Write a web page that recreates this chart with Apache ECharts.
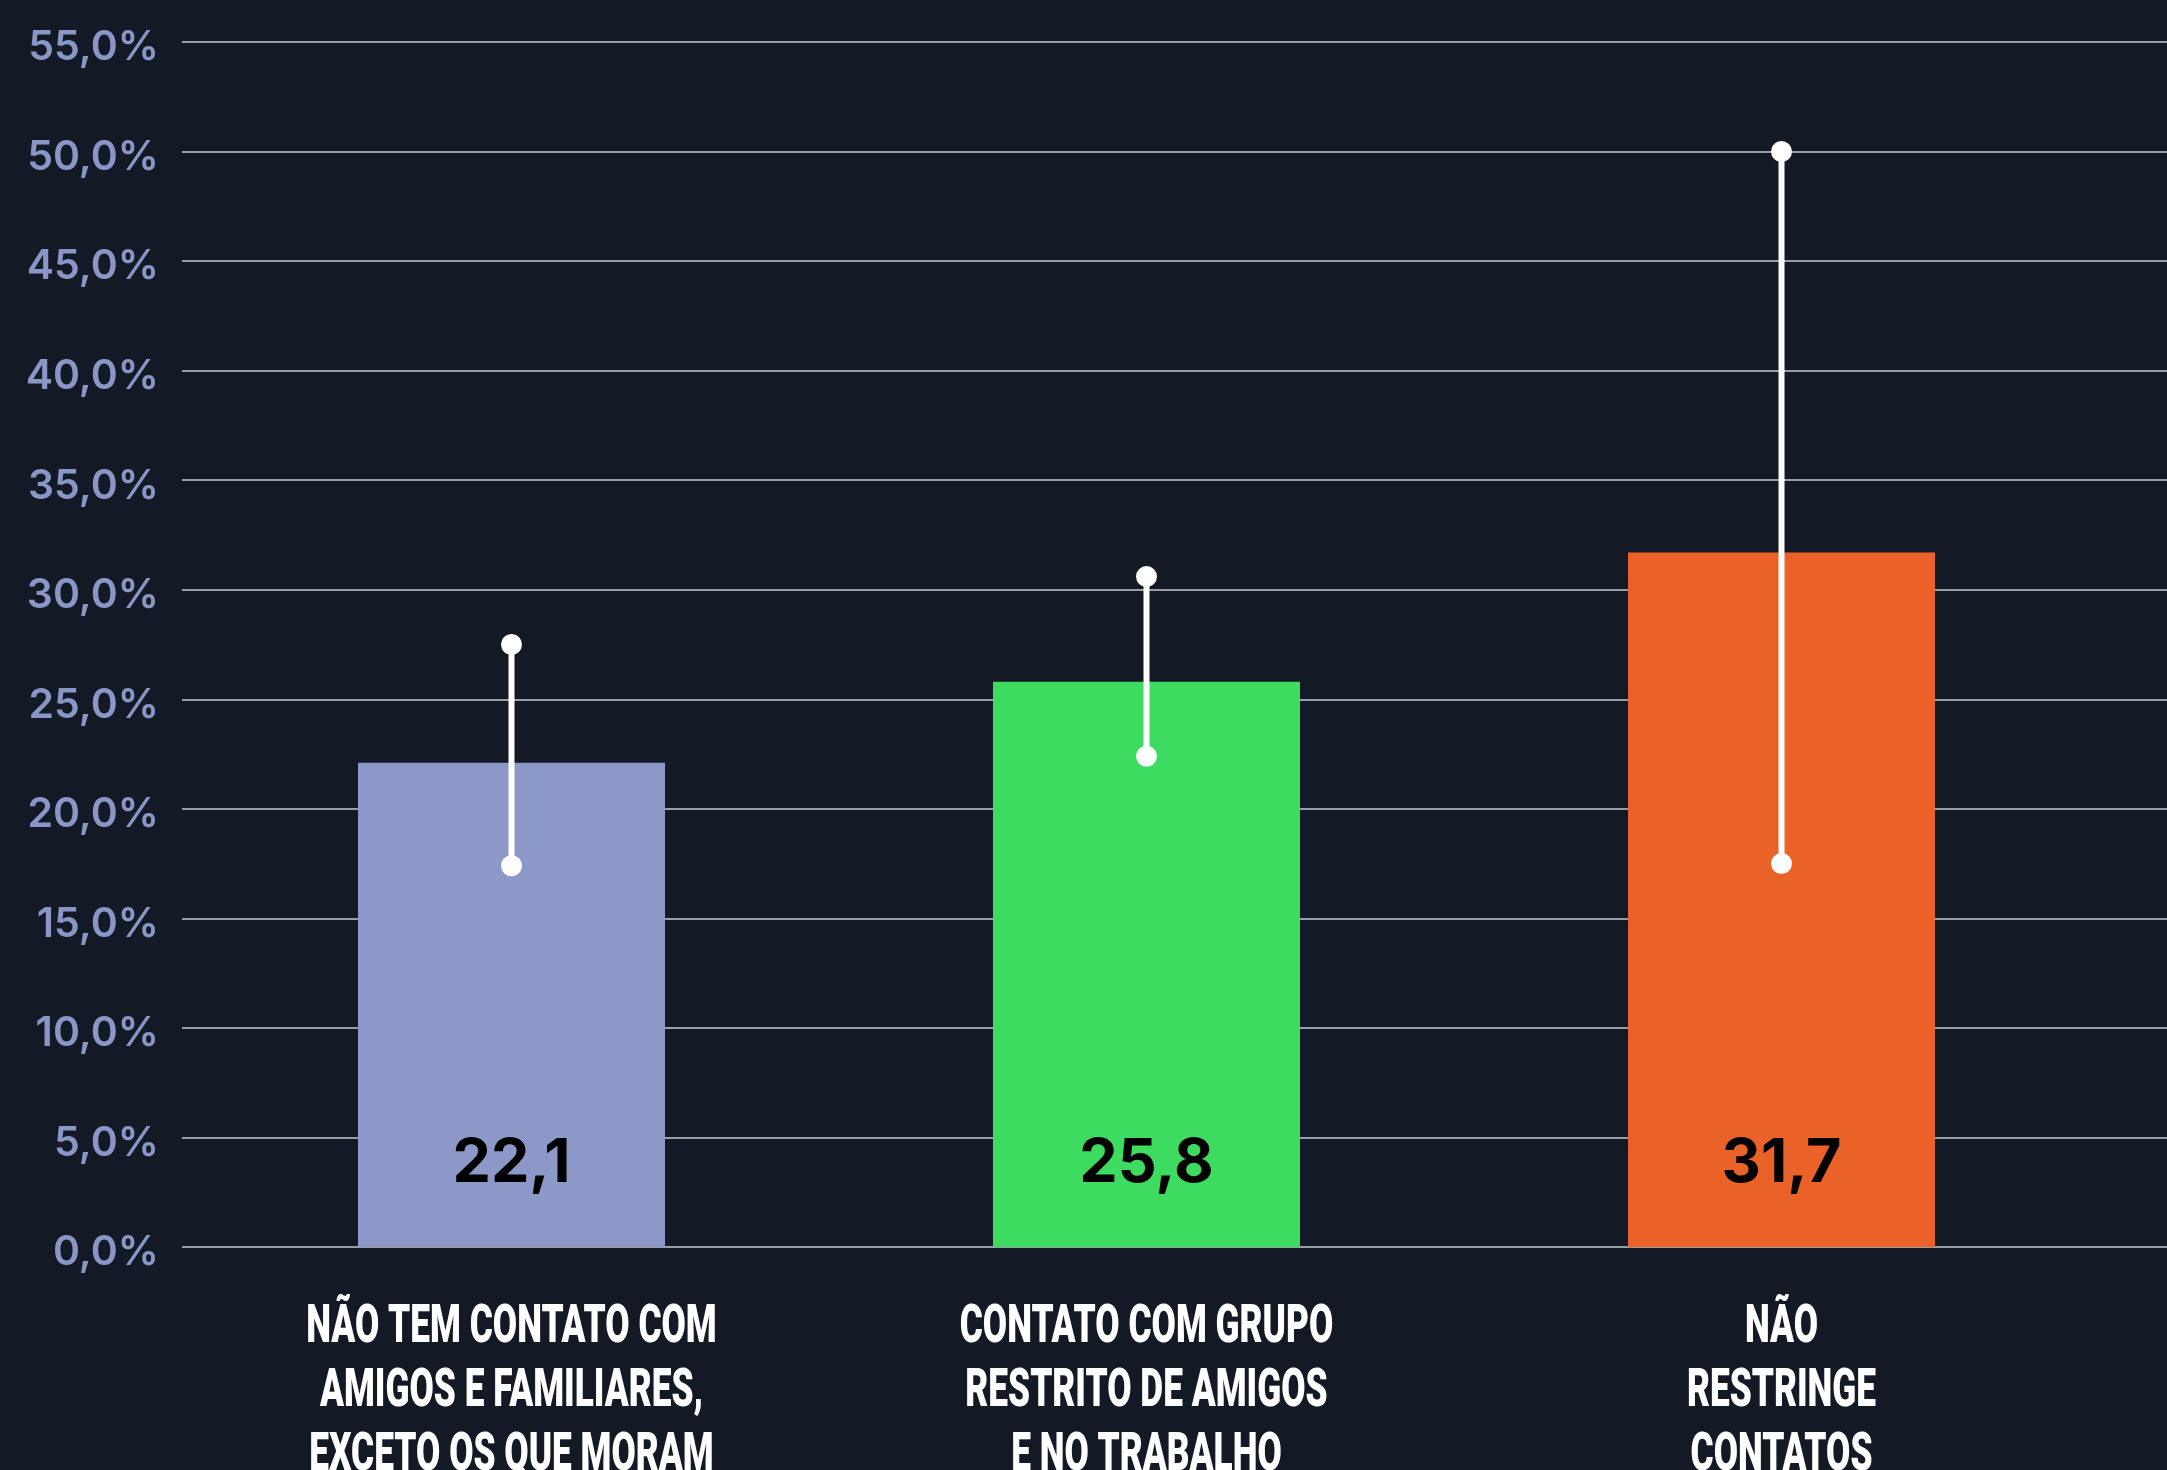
<!DOCTYPE html>
<html>
<head>
<meta charset="utf-8">
<title>Contatos</title>
<script src="https://cdn.jsdelivr.net/npm/echarts@6/dist/echarts.min.js"></script>
<style>
  html, body { margin: 0; padding: 0; background: #131a26; }
  #chart { width: 2167px; height: 1470px; }
</style>
</head>
<body>
<div id="chart"></div>
<script>
// dados
const categories = [
  'NÃO TEM CONTATO COM\nAMIGOS E FAMILIARES,\nEXCETO OS QUE MORAM',
  'CONTATO COM GRUPO\nRESTRITO DE AMIGOS\nE NO TRABALHO',
  'NÃO\nRESTRINGE\nCONTATOS'
]
const values = [22.1, 25.8, 31.7]
const lower = [17.4, 22.4, 17.5]
const upper = [27.5, 30.6, 50.0]
const barColors = ['#8c98c8', '#3ddc61', '#eb6228']
const yTicks = { min: 0, max: 55, interval: 5 }

const fmt = v => v.toFixed(1).replace('.', ',')

const chart = echarts.init(document.getElementById('chart'))

chart.setOption({
  backgroundColor: '#131a26',
  animation: false,
  grid: [
    // grade das linhas (ocupa toda a largura)
    { left: 182, right: 0, top: 42, bottom: 223 },
    // grade das barras
    { left: 194, right: 68, top: 42, bottom: 223 }
  ],
  xAxis: [
    { type: 'category', gridIndex: 0, data: categories, show: false },
    {
      type: 'category', gridIndex: 1, data: categories,
      axisLine: { show: false }, axisTick: { show: false }, axisLabel: { show: false }
    }
  ],
  yAxis: [
    {
      type: 'value', gridIndex: 0,
      min: yTicks.min, max: yTicks.max, interval: yTicks.interval,
      axisLine: { show: false }, axisTick: { show: false },
      splitLine: { lineStyle: { color: '#c9ccd1', width: 1.5 } },
      axisLabel: {
        formatter: v => '{t|' + fmt(v) + '%}',
        margin: 23,
        rich: {
          t: {
            color: '#8a96c6',
            fontFamily: 'Inter',
            fontWeight: 600,
            fontSize: 41,
            padding: [12, 0, 0, 0]
          }
        }
      }
    },
    {
      type: 'value', gridIndex: 1,
      min: yTicks.min, max: yTicks.max, interval: yTicks.interval,
      show: false, splitLine: { show: false }
    }
  ],
  series: [
    {
      type: 'bar',
      xAxisIndex: 1, yAxisIndex: 1,
      barWidth: 307,
      data: values.map((v, i) => ({ value: v, itemStyle: { color: barColors[i] } })),
      label: {
        show: true,
        position: ['50%', '100%'],
        offset: [0, -83],
        align: 'center',
        verticalAlign: 'middle',
        formatter: p => fmt(p.value),
        color: '#000',
        fontFamily: 'Inter',
        fontWeight: 700,
        fontSize: 61
      }
    },
    {
      // barras de erro
      type: 'custom',
      xAxisIndex: 1, yAxisIndex: 1,
      z: 10,
      data: lower.map((lo, i) => [i, lo, upper[i]]),
      renderItem: (params, api) => {
        const lo = api.coord([api.value(0), api.value(1)])
        const hi = api.coord([api.value(0), api.value(2)])
        return {
          type: 'group',
          children: [
            { type: 'line', shape: { x1: lo[0], y1: lo[1], x2: hi[0], y2: hi[1] }, style: { stroke: '#fff', lineWidth: 6 } },
            { type: 'circle', shape: { cx: lo[0], cy: lo[1], r: 10.5 }, style: { fill: '#fff' } },
            { type: 'circle', shape: { cx: hi[0], cy: hi[1], r: 10.5 }, style: { fill: '#fff' } }
          ]
        }
      }
    }
  ]
})

// rótulos do eixo x em fonte condensada (escala horizontal)
const labels = categories.map((c, i) => {
  const x = chart.convertToPixel({ xAxisIndex: 1 }, i)
  return {
    type: 'text',
    x: x,
    y: 1297,
    scaleX: 0.665,
    style: {
      text: c,
      fill: '#fff',
      fontFamily: 'Roboto',
      fontWeight: 900,
      fontSize: 53,
      lineHeight: 64,
      align: 'center',
      verticalAlign: 'top'
    }
  }
})
chart.setOption({ graphic: labels })
</script>
</body>
</html>
